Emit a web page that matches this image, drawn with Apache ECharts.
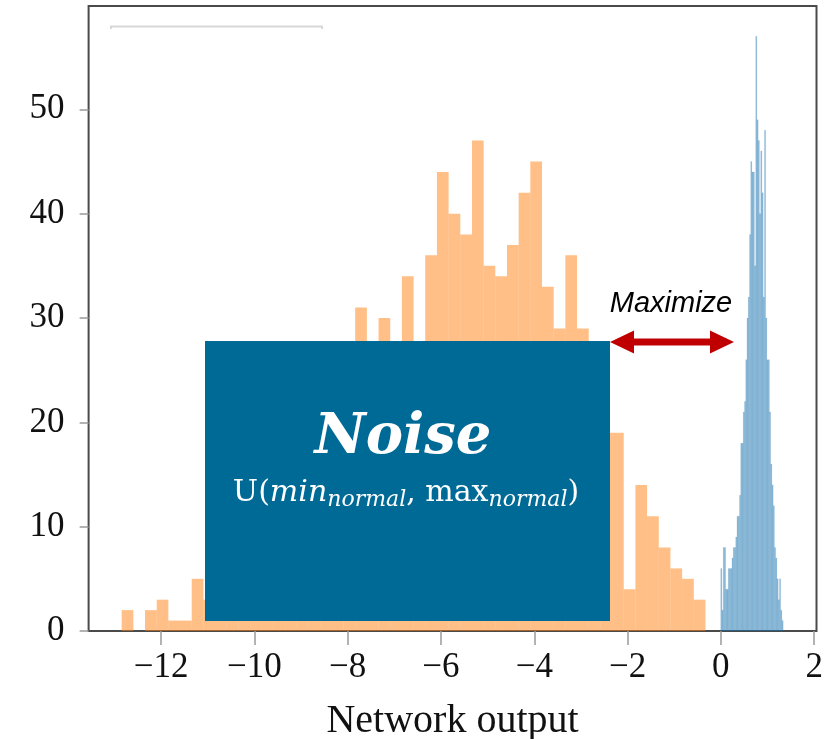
<!DOCTYPE html>
<html><head><meta charset="utf-8">
<script src="https://cdn.jsdelivr.net/npm/echarts@6/dist/echarts.min.js"></script>
<style>html,body{margin:0;padding:0;background:#fff}#c{width:830px;height:739px}</style>
</head><body><div id="c"></div>
<script>
// ---- data ----
const orangeBinStart = -12.845;
const orangeBinWidth = 0.2503;
const orangeCounts = [2,0,2,3,1,1,5,3,4,3,6,5,7,6,9,12,10,15,18,22,31,25,30,27,34,26,36,44,40,38,47,35,34,37,42,45,33,29,36,29,24,19,19,4,14,11,8,6,5,3];
const blueBinStart = -0.004;
const blueBinWidth = 0.0268;
const blueCounts = [6,2,8,8,4,4,6,6,6,7,8,8,9,11,11,13,18,18,21,22,26,30,32,38,45,44,44,35,57,49,47,40,46,42,32,48,30,26,26,21,16,14,12,8,7,5,3,5,2,1];
const xTicks = [-12,-10,-8,-6,-4,-2,0,2];
const yTicks = [0,10,20,30,40,50];
const xLabel = 'Network output';

function binsToData(start, width, counts){
  return counts.map((c,i)=>[start+i*width, start+(i+1)*width, c]);
}
function makeRender(stroke){
  return function(params, api){
    const x0 = api.value(0), x1 = api.value(1), h = api.value(2);
    const p0 = api.coord([x0, h]); const p1 = api.coord([x1, 0]);
    return {type:'rect', shape:{x:p0[0], y:p0[1], width:p1[0]-p0[0], height:p1[1]-p0[1]},
      style:{fill: api.visual('color'), stroke: stroke, lineWidth: stroke ? 0.5 : 0}};
  };
}
const fmt = v => v < 0 ? '\u2212' + (-v) : String(v);
const serif = '"Liberation Serif", "DejaVu Serif", serif';
const dserif = '"DejaVu Serif", serif';

const chart = echarts.init(document.getElementById('c'), null, {renderer:'canvas'});
chart.setOption({
  animation:false,
  backgroundColor:'#fff',
  grid:{left:88.6, right:13.5, top:6, bottom:108, outerBoundsMode:'none', containLabel:false, show:true, borderColor:'#4a4a4a', borderWidth:2, backgroundColor:'transparent'},
  xAxis:{type:'value', min:-13.554, max:2.05,
    name:xLabel, nameLocation:'middle', nameGap:70,
    nameTextStyle:{fontFamily:serif, fontSize:40, color:'#111'},
    axisLine:{show:false, onZero:false}, splitLine:{show:false},
    axisTick:{show:true, customValues:xTicks, length:14, lineStyle:{color:'#9a9a9a', width:1.5}},
    axisLabel:{customValues:xTicks, formatter:fmt, margin:19, fontFamily:serif, fontSize:35, color:'#111'}},
  yAxis:{type:'value', min:0, max:59.9,
    axisLine:{show:false, onZero:false}, splitLine:{show:false},
    axisTick:{show:true, customValues:yTicks, length:9, lineStyle:{color:'#9a9a9a', width:1.5}},
    axisLabel:{customValues:yTicks, formatter:fmt, margin:24, fontFamily:serif, fontSize:35, color:'#111'}},
  series:[
    {type:'custom', name:'noise', renderItem:makeRender(null), color:'rgba(255,127,14,0.5)',
      encode:{x:[0,1], y:2}, data:binsToData(orangeBinStart, orangeBinWidth, orangeCounts)},
    {type:'custom', name:'normal', renderItem:makeRender('rgba(31,119,180,0.15)'), color:'rgba(31,119,180,0.5)',
      encode:{x:[0,1], y:2}, data:binsToData(blueBinStart, blueBinWidth, blueCounts)}
  ],
  graphic:[
    {type:'polyline', z:100, shape:{points:[[111,29],[111,26.5],[322,26.5],[322,29]]}, style:{stroke:'#d8d8d8', lineWidth:2, fill:null}},
    {type:'rect', z:100, shape:{x:205, y:341, width:405, height:280}, style:{fill:'#006a96'}},
    {type:'text', z:101, x:403, y:438, style:{text:'Noise', fill:'#fff', font:'italic bold 56px "DejaVu Serif", serif', align:'center', verticalAlign:'middle'}},
    {type:'text', z:101, x:406, y:493, style:{
      text:'{r|U(}{i|min}{s|normal}{r|, max}{s|normal}{r|)}',
      fill:'#fff', align:'center', verticalAlign:'middle',
      rich:{
        r:{fontFamily:dserif, fontSize:30, fill:'#fff'},
        i:{fontFamily:dserif, fontStyle:'italic', fontSize:30, fill:'#fff'},
        s:{fontFamily:dserif, fontStyle:'italic', fontSize:22, fill:'#fff', padding:[14,0,0,0]}
      }}},
    {type:'polygon', z:100, shape:{points:[[610,342],[634,330.5],[634,338.5],[710,338.5],[710,330.5],[734,342],[710,353.5],[710,345.5],[634,345.5],[634,353.5]]}, style:{fill:'#c00000'}},
    {type:'text', z:101, x:671, y:304, style:{text:'Maximize', fill:'#000', font:'italic 29px "Liberation Sans", sans-serif', align:'center', verticalAlign:'middle'}}
  ]
});
</script></body></html>
